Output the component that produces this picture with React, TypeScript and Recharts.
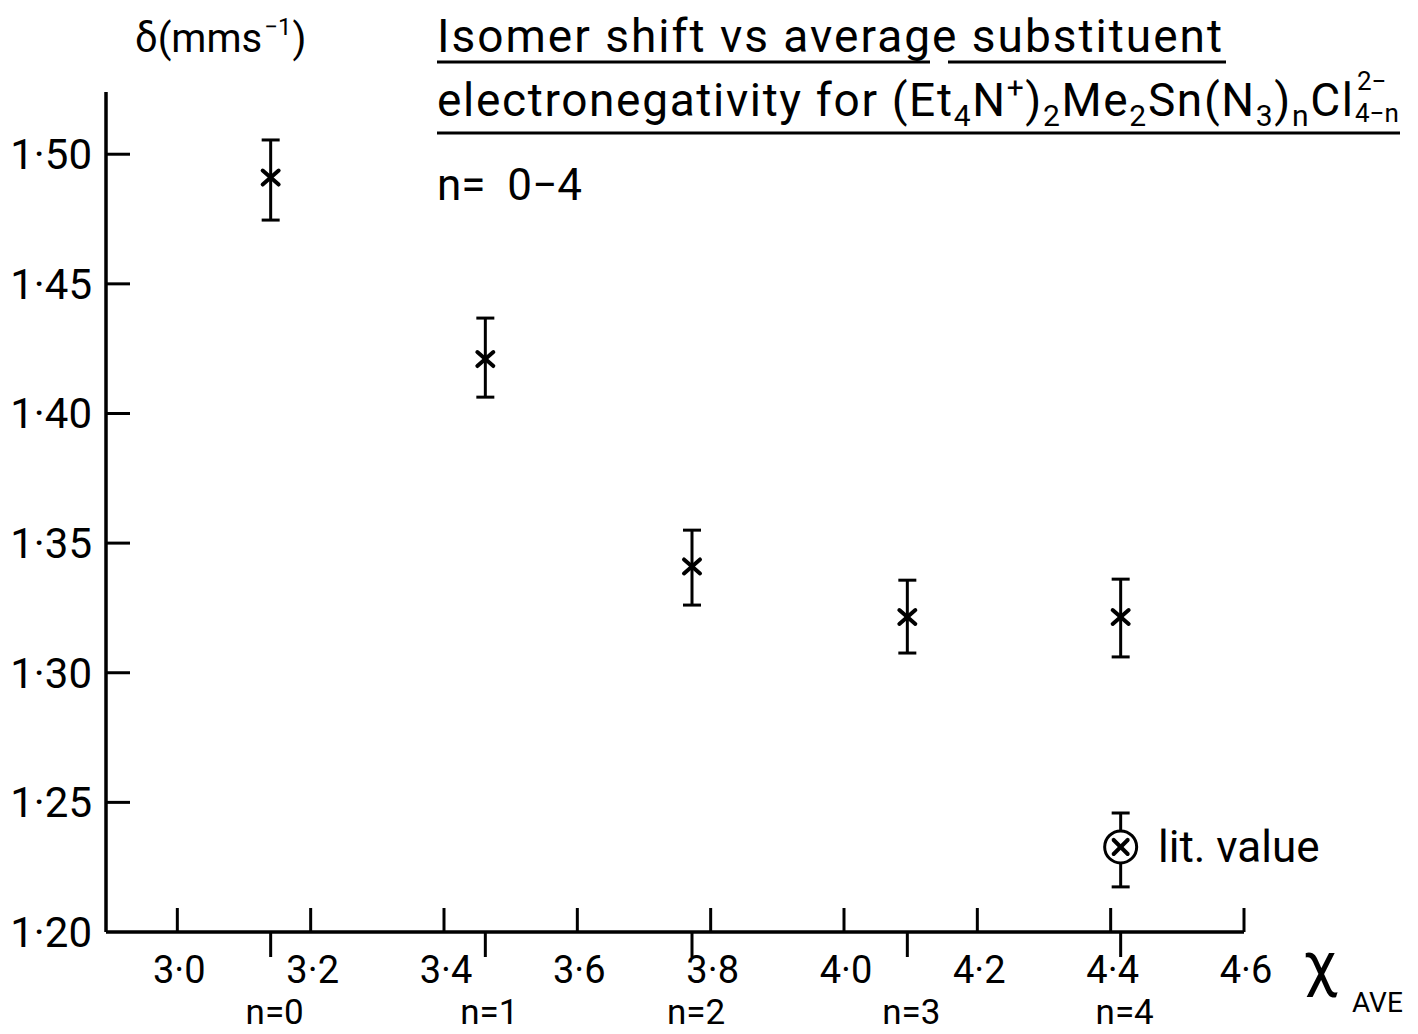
import { ScatterChart, Scatter, XAxis, YAxis, ErrorBar } from "recharts";

const FONT = "Roboto, 'DejaVu Sans', sans-serif";

// n = 0..4 : average substituent electronegativity vs isomer shift
const nLabels = ["n=0", "n=1", "n=2", "n=3", "n=4"];
const chiAve = [3.14, 3.462, 3.772, 4.095, 4.415];
const shift = [1.491, 1.421, 1.341, 1.3215, 1.3215];
const shiftHigh = [1.5055, 1.4368, 1.355, 1.3357, 1.3361];
const shiftLow = [1.4746, 1.4063, 1.3261, 1.3076, 1.3061];

// literature value
const litChi = [4.415];
const litShift = [1.2328];
const litHigh = [1.2459];
const litLow = [1.2174];

const xTicks = [3.0, 3.2, 3.4, 3.6, 3.8, 4.0, 4.2, 4.4, 4.6];
const yTicks = [1.2, 1.25, 1.3, 1.35, 1.4, 1.45, 1.5];

const measured = chiAve.map((x, i) => ({
    x,
    y: shift[i],
    err: [shift[i] - shiftLow[i], shiftHigh[i] - shift[i]],
}));
const literature = litChi.map((x, i) => ({
    x,
    y: litShift[i],
    err: [litShift[i] - litLow[i], litHigh[i] - litShift[i]],
}));

const dot = (v: number, d: number) => v.toFixed(d).replace(".", "·");

const XTick = (props: any) => {
    const { x, y, payload } = props;
    const idx = chiAve.indexOf(payload.value);
    if (idx >= 0) {
        // downward tick at each compound, labelled n=
        return (
            <g>
                <line x1={x} y1={y} x2={x} y2={y + 25} stroke="#000" strokeWidth={3} />
                <text x={x + 4} y={y + 92} textAnchor="middle" fontSize={35} fontFamily={FONT} fill="#000">
                    {nLabels[idx]}
                </text>
            </g>
        );
    }
    return (
        <g>
            <line x1={x} y1={y} x2={x} y2={y - 24} stroke="#000" strokeWidth={3} />
            <text x={x + 2} y={y + 51} textAnchor="middle" fontSize={38} fontFamily={FONT} fill="#000">
                {dot(payload.value, 1)}
            </text>
        </g>
    );
};

const YTick = (props: any) => {
    const { x, y, payload } = props;
    return (
        <g>
            {payload.value > 1.2 && <line x1={x} y1={y} x2={x + 24} y2={y} stroke="#000" strokeWidth={3} />}
            <text x={x - 14} y={y + 15} textAnchor="end" fontSize={42} fontFamily={FONT} fill="#000">
                {dot(payload.value, 2)}
            </text>
        </g>
    );
};

const Cross = (props: any) => {
    const { cx, cy } = props;
    return (
        <g stroke="#000" strokeWidth={4} strokeLinecap="round">
            <line x1={cx - 8} y1={cy - 7} x2={cx + 8} y2={cy + 7} />
            <line x1={cx - 8} y1={cy + 7} x2={cx + 8} y2={cy - 7} />
        </g>
    );
};

const CircledCross = (props: any) => {
    const { cx, cy } = props;
    return (
        <g stroke="#000" strokeLinecap="round">
            <circle cx={cx} cy={cy} r={16} fill="#fff" strokeWidth={3} />
            <line x1={cx - 7} y1={cy - 7} x2={cx + 7} y2={cy + 7} strokeWidth={4} />
            <line x1={cx - 7} y1={cy + 7} x2={cx + 7} y2={cy - 7} strokeWidth={4} />
        </g>
    );
};

export default function App() {
    return (
        <div style={{ position: "absolute", left: 0, top: 0, width: 1418, height: 1034, background: "#fff" }}>
            <ScatterChart width={1418} height={1034} margin={{ top: 92, right: 174, bottom: 2, left: 0 }}>
                <XAxis
                    type="number"
                    dataKey="x"
                    domain={[2.893, 4.6]}
                    ticks={[...xTicks, ...chiAve]}
                    interval={0}
                    height={100}
                    tickSize={0}
                    tickMargin={0}
                    tick={<XTick />}
                    axisLine={{ stroke: "#000", strokeWidth: 3.5 }}
                />
                <YAxis
                    type="number"
                    dataKey="y"
                    domain={[1.2, 1.524]}
                    ticks={yTicks}
                    interval={0}
                    width={106}
                    tickSize={0}
                    tickMargin={0}
                    tick={<YTick />}
                    axisLine={{ stroke: "#000", strokeWidth: 3.5 }}
                />
                <Scatter data={measured} shape={<Cross />} isAnimationActive={false}>
                    <ErrorBar dataKey="err" direction="y" width={9} stroke="#000" strokeWidth={3} />
                </Scatter>
                <Scatter data={literature} shape={<CircledCross />} isAnimationActive={false}>
                    <ErrorBar dataKey="err" direction="y" width={9} stroke="#000" strokeWidth={3} />
                </Scatter>
            </ScatterChart>
            <svg
                width={1418}
                height={1034}
                style={{ position: "absolute", left: 0, top: 0, pointerEvents: "none" }}
                fontFamily={FONT}
                fill="#000"
            >
                <text x={135} y={52} fontSize={40}>
                    δ(mms<tspan dx={2} dy={-17} fontSize={24}>−1</tspan>
                    <tspan dx={1} dy={17}>)</tspan>
                </text>
                <text x={437} y={52} fontSize={46} textLength={785} lengthAdjust="spacing">
                    Isomer shift vs average substituent
                </text>
                <line x1={437} y1={62} x2={930} y2={62} stroke="#000" strokeWidth={3} />
                <line x1={948} y1={62} x2={1226} y2={62} stroke="#000" strokeWidth={3} />
                <text x={437} y={116} fontSize={46} textLength={916} lengthAdjust="spacing">
                    electronegativity for (Et<tspan dy={10} fontSize={30}>4</tspan>
                    <tspan dy={-10}>N</tspan>
                    <tspan dy={-18} fontSize={30}>+</tspan>
                    <tspan dy={18}>)</tspan>
                    <tspan dy={10} fontSize={30}>2</tspan>
                    <tspan dy={-10}>Me</tspan>
                    <tspan dy={10} fontSize={30}>2</tspan>
                    <tspan dy={-10}>Sn(N</tspan>
                    <tspan dy={10} fontSize={30}>3</tspan>
                    <tspan dy={-10}>)</tspan>
                    <tspan dy={10} fontSize={30}>n</tspan>
                    <tspan dy={-10}>Cl</tspan>
                </text>
                <text x={1357} y={90} fontSize={26}>2−</text>
                <text x={1355} y={122} fontSize={26}>4−n</text>
                <line x1={437} y1={133} x2={1400} y2={133} stroke="#000" strokeWidth={3} />
                <text x={437} y={200} fontSize={44} style={{ whiteSpace: "pre" }}>n=  0−4</text>
                <text x={1158} y={862} fontSize={44}>lit. value</text>
                <text x={1303} y={985} fontSize={62}>χ</text>
                <text x={1352} y={1012} fontSize={28}>AVE</text>
            </svg>
        </div>
    );
}
